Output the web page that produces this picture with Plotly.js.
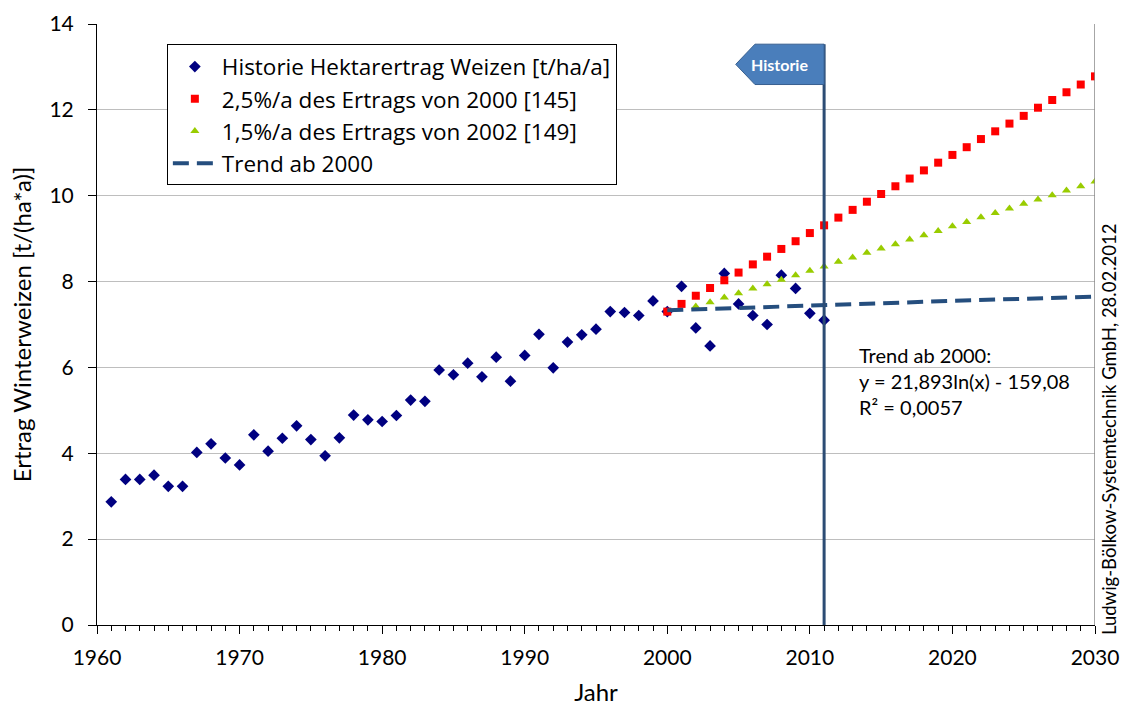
<!DOCTYPE html>
<html>
<head>
<meta charset="utf-8">
<script src="https://cdn.plot.ly/plotly-3.0.1.min.js"></script>
<style>html,body{margin:0;padding:0;background:#fff;}#chart{width:1122px;height:709px;}</style>
</head>
<body>
<div id="chart"></div>
<script>
// Historical wheat yield [t/ha/a]
const histYears = [1961,1962,1963,1964,1965,1966,1967,1968,1969,1970,1971,1972,1973,1974,1975,1976,1977,1978,1979,1980,
  1981,1982,1983,1984,1985,1986,1987,1988,1989,1990,1991,1992,1993,1994,1995,1996,1997,1998,1999,2000,
  2001,2002,2003,2004,2005,2006,2007,2008,2009,2010,2011];
const histValues = [2.87,3.39,3.39,3.49,3.23,3.23,4.02,4.22,3.89,3.73,4.43,4.05,4.35,4.64,4.32,3.94,4.36,4.89,4.78,4.74,
  4.88,5.24,5.21,5.94,5.83,6.10,5.78,6.24,5.68,6.28,6.77,5.99,6.59,6.76,6.89,7.30,7.28,7.21,7.55,7.30,
  7.89,6.92,6.50,8.19,7.48,7.21,7.00,8.15,7.84,7.26,7.10];

// 2,5%/a of the 2000 yield
const s25Years = [2000,2001,2002,2003,2004,2005,2006,2007,2008,2009,2010,2011,2012,2013,2014,2015,
  2016,2017,2018,2019,2020,2021,2022,2023,2024,2025,2026,2027,2028,2029,2030];
const s25Values = [7.30,7.48,7.67,7.85,8.03,8.21,8.40,8.58,8.76,8.94,9.13,9.31,9.49,9.67,9.86,10.04,
  10.22,10.40,10.59,10.77,10.95,11.13,11.32,11.50,11.68,11.86,12.05,12.23,12.41,12.59,12.78];

// 1,5%/a of the 2002 yield
const s15Years = [2002,2003,2004,2005,2006,2007,2008,2009,2010,2011,2012,2013,2014,2015,
  2016,2017,2018,2019,2020,2021,2022,2023,2024,2025,2026,2027,2028,2029,2030];
const s15Values = [7.42,7.52,7.63,7.73,7.84,7.94,8.04,8.15,8.25,8.35,8.46,8.56,8.67,8.77,
  8.87,8.98,9.08,9.18,9.29,9.39,9.50,9.60,9.70,9.81,9.91,10.01,10.12,10.22,10.33];

// Trend ab 2000 (logarithmic)
const trendYears = [2000,2005,2010,2015,2020,2025,2030];
const trendValues = [7.33,7.39,7.44,7.49,7.55,7.60,7.65];

const xTickVals = [1960,1970,1980,1990,2000,2010,2020,2030];
const yTickVals = [0,2,4,6,8,10,12,14];
const historyYear = 2011;

const legendNames = [
  'Historie Hektarertrag Weizen [t/ha/a]',
  '2,5%/a des Ertrags von 2000 [145]',
  '1,5%/a des Ertrags von 2002 [149]',
  'Trend ab 2000'
];
const trendNote = ['Trend ab 2000:', 'y = 21,893ln(x) - 159,08', 'R² = 0,0057'];
const sourceNote = 'Ludwig-Bölkow-Systemtechnik GmbH, 28.02.2012';

const FONT = 'Lato, "Open Sans", sans-serif';
const LEGFONT = '"Open Sans", Lato, sans-serif';

const traces = [
  {x: histYears, y: histValues, name: legendNames[0], mode: 'markers', type: 'scatter',
   marker: {symbol: 'diamond', size: 9, color: '#000080'}},
  {x: s25Years, y: s25Values, name: legendNames[1], mode: 'markers', type: 'scatter',
   marker: {symbol: 'square', size: 8, color: '#FF0000'}},
  {x: s15Years, y: s15Values, name: legendNames[2], mode: 'markers', type: 'scatter',
   marker: {symbol: 'triangle-up', size: 8, color: '#99CC00'}},
  {x: trendYears, y: trendValues, name: legendNames[3], mode: 'lines', type: 'scatter',
   line: {color: '#254E7E', width: 4, dash: '16px,8px'}}
];

const layout = {
  width: 1122, height: 709,
  margin: {l: 97, r: 27, t: 24, b: 84},
  paper_bgcolor: '#ffffff', plot_bgcolor: '#ffffff',
  font: {family: FONT, size: 21, color: '#000'},
  showlegend: true,
  legend: {x: 0.07, y: 0.966, xanchor: 'left', yanchor: 'top',
    bordercolor: '#000', borderwidth: 1, bgcolor: '#fff', itemwidth: 44,
    font: {family: LEGFONT, size: 22.5, color: '#000'}, tracegroupgap: 0},
  xaxis: {range: [1960, 2030], tickvals: xTickVals, ticks: 'outside', ticklen: 8, tickcolor: '#000',
    showline: true, linecolor: '#000', linewidth: 1, showgrid: false, zeroline: false,
    tickfont: {family: FONT, size: 21}, ticklabelstandoff: 6,
    minor: {dtick: 1, ticks: 'outside', ticklen: 5, tickcolor: '#000', showgrid: false},
    title: {text: 'Jahr', font: {family: FONT, size: 24}, standoff: 15}},
  yaxis: {range: [0, 14], tickvals: yTickVals, ticks: 'outside', ticklen: 8, tickcolor: '#000',
    showline: true, linecolor: '#000', linewidth: 1, showgrid: true, gridcolor: '#BEBEBE', gridwidth: 1,
    zeroline: false, tickfont: {family: FONT, size: 21}, ticklabelstandoff: 10,
    title: {text: 'Ertrag Winterweizen [t/(ha*a)]', font: {family: FONT, size: 24}, standoff: 11}},
  shapes: [
    {type: 'line', xref: 'x', yref: 'y', x0: 2030, x1: 2030, y0: 0, y1: 14,
     line: {color: '#888', width: 1.5}},
    {type: 'line', xref: 'x', yref: 'y', x0: historyYear, x1: historyYear, y0: 0, y1: 13.53,
     line: {color: '#2C4C74', width: 3}, layer: 'above'},
    {type: 'path', xref: 'x', yref: 'y',
     path: 'M 2004.8,13.06 L 2006.15,13.53 L ' + historyYear + ',13.53 L ' + historyYear + ',12.59 L 2006.15,12.59 Z',
     fillcolor: '#4A7EBB', line: {color: '#386090', width: 1}, layer: 'above'}
  ],
  annotations: [
    {xref: 'x', yref: 'y', x: 2007.9, y: 13.06, text: '<b>Historie</b>', showarrow: false,
     font: {family: FONT, size: 16, color: '#fff'}},
    {xref: 'x', yref: 'y', x: 2013.3, y: 6.62, xanchor: 'left', yanchor: 'top', align: 'left',
     text: trendNote.join('<br>'), showarrow: false,
     font: {family: FONT, size: 20, color: '#000'}},
    {xref: 'paper', yref: 'paper', x: 1.014, y: 0.326, xanchor: 'center', yanchor: 'middle',
     text: sourceNote, textangle: -90, showarrow: false,
     font: {family: FONT, size: 18.5, color: '#000'}}
  ]
};

Plotly.newPlot('chart', traces, layout, {displayModeBar: false, staticPlot: true});
</script>
</body>
</html>
